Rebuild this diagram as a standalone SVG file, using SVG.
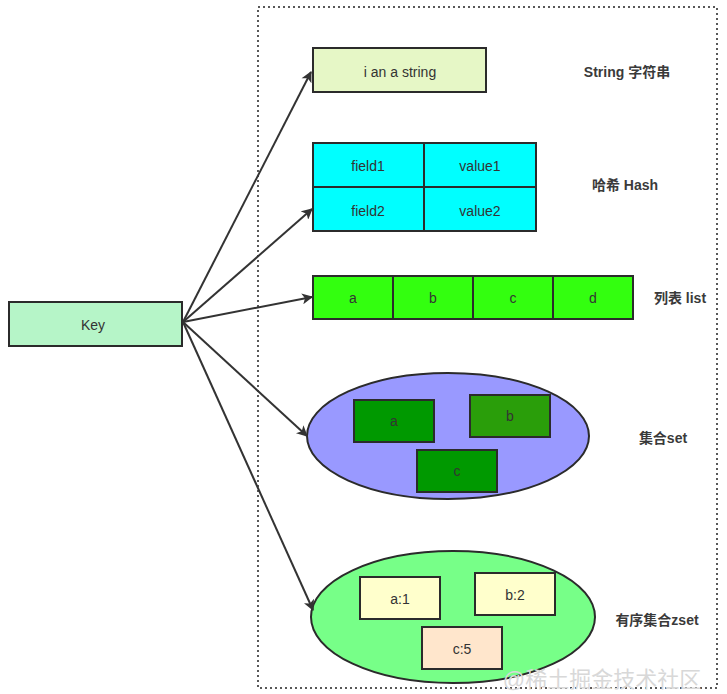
<svg xmlns="http://www.w3.org/2000/svg" width="727" height="694" viewBox="0 0 727 694">
<style>
text{font-family:"Liberation Sans","Noto Sans CJK SC",sans-serif;font-size:14px;fill:#333;text-anchor:middle;dominant-baseline:central}
.lbl{font-weight:bold;fill:#3a3a3a}
.box{stroke:#2b2b2b;stroke-width:2}
.conn{stroke:#333;stroke-width:2;fill:none}
</style>
<defs>
<marker id="ah" viewBox="0 0 10 10" refX="9" refY="5" markerWidth="13" markerHeight="11" orient="auto" markerUnits="userSpaceOnUse">
<path d="M0,0 L10,5 L0,10 L2.5,5 z" fill="#333"/>
</marker>
</defs>
<rect x="0" y="0" width="727" height="694" fill="#fff"/>
<rect id="container" x="258" y="7" width="459" height="681" fill="none" stroke="#222" stroke-width="1.5" stroke-dasharray="2,3"/>

<g id="key">
<rect class="box" x="9" y="302" width="173" height="44" fill="#b6f5c8"/>
<text x="93" y="325">Key</text>
</g>

<g id="string">
<rect class="box" x="313" y="48" width="173" height="44" fill="#e6f7c6"/>
<text x="400" y="72">i an a string</text>
<text class="lbl" x="627" y="72">String 字符串</text>
</g>

<g id="hash">
<rect class="box" x="313" y="143" width="223" height="88" fill="#00ffff"/>
<line class="box" x1="424" y1="143" x2="424" y2="231"/>
<line class="box" x1="313" y1="187" x2="536" y2="187"/>
<text x="368" y="166">field1</text>
<text x="480" y="166">value1</text>
<text x="368" y="211">field2</text>
<text x="480" y="211">value2</text>
<text class="lbl" x="625" y="185">哈希 Hash</text>
</g>

<g id="list">
<rect class="box" x="313" y="276" width="320" height="43" fill="#33ff0f"/>
<line class="box" x1="393" y1="276" x2="393" y2="319"/>
<line class="box" x1="473" y1="276" x2="473" y2="319"/>
<line class="box" x1="553" y1="276" x2="553" y2="319"/>
<text x="353" y="298">a</text>
<text x="433" y="298">b</text>
<text x="513" y="298">c</text>
<text x="593" y="298">d</text>
<text class="lbl" x="680" y="298">列表 list</text>
</g>

<g id="set">
<ellipse class="box" cx="448" cy="436" rx="141" ry="63" fill="#9999ff"/>
<rect class="box" x="354" y="400" width="80" height="42" fill="#009900"/>
<rect class="box" x="470" y="395" width="80" height="42" fill="#2a9e0a"/>
<rect class="box" x="417" y="450" width="80" height="42" fill="#009900"/>
<text x="394" y="421">a</text>
<text x="510" y="416">b</text>
<text x="457" y="471">c</text>
<text class="lbl" x="663" y="438">集合set</text>
</g>

<g id="zset">
<ellipse class="box" cx="453" cy="617" rx="142" ry="66" fill="#77ff88"/>
<rect class="box" x="360" y="577" width="80" height="42" fill="#ffffcc"/>
<rect class="box" x="475" y="573" width="80" height="42" fill="#ffffcc"/>
<rect class="box" x="422" y="627" width="80" height="42" fill="#ffe6cc"/>
<text x="400" y="599">a:1</text>
<text x="515" y="595">b:2</text>
<text x="462" y="649">c:5</text>
<text class="lbl" x="657" y="620">有序集合zset</text>
</g>

<g id="connectors">
<line class="conn" x1="183" y1="322" x2="311" y2="72" marker-end="url(#ah)"/>
<line class="conn" x1="183" y1="322" x2="312" y2="209" marker-end="url(#ah)"/>
<line class="conn" x1="183" y1="322" x2="312" y2="297" marker-end="url(#ah)"/>
<line class="conn" x1="183" y1="322" x2="307" y2="436" marker-end="url(#ah)"/>
<line class="conn" x1="183" y1="322" x2="313" y2="610" marker-end="url(#ah)"/>
</g>

<text x="602" y="679" style="font-size:22px;fill:#d8d8d8">@稀土掘金技术社区</text>
</svg>
